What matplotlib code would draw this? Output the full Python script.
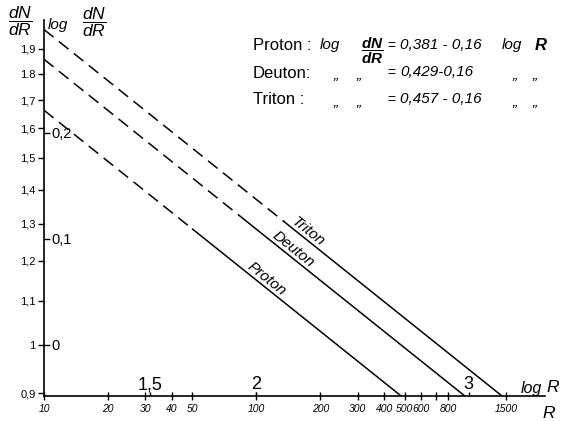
import numpy as np
import matplotlib
matplotlib.use("Agg")
import matplotlib.pyplot as plt

plt.rcParams['font.family'] = ['Liberation Sans', 'DejaVu Sans']
plt.rcParams['mathtext.fontset'] = 'custom'
plt.rcParams['mathtext.rm'] = 'Liberation Sans'
plt.rcParams['mathtext.it'] = 'Liberation Sans:italic'
plt.rcParams['mathtext.bf'] = 'Liberation Sans:italic:bold'

# data: log dN/dR = a - b * log R
particles = ['Proton', 'Deuton', 'Triton']
intercepts = [0.381, 0.429, 0.457]
slope = 0.16
dash_end = [1.70, 1.96, 2.13]     # log R where the dashed part turns solid
label_at = [2.05, 2.175, 2.245]   # log R of the curve label

r_ticks = [10, 20, 30, 40, 50, 100, 200, 300, 400, 500, 600, 700, 800, 1500]
r_labels = ['10', '20', '30', '40', '50', '100', '200', '300', '400', '500', '600', '', '800', '1500']
logr_ticks = [1.5, 2, 3]
logr_labels = ['1,5', '2', '3']

dndr_ticks = [0.9, 1.0, 1.1, 1.2, 1.3, 1.4, 1.5, 1.6, 1.7, 1.8, 1.9]
dndr_labels = ['0,9', '1', '1,1', '1,2', '1,3', '1,4', '1,5', '1,6', '1,7', '1.8', '1,9']
logd_ticks = [0, 0.1, 0.2]
logd_labels = ['0', '0,1', '0,2']

W, H = 569, 421
fig = plt.figure(figsize=(W / 100, H / 100), dpi=100)
ax = fig.add_axes([44 / W, 1 - 396 / H, 501 / W, 376 / H])
xlim = (1.0, 3.36)
ylim = (np.log10(0.895), 0.306)
ax.set_xlim(xlim)
ax.set_ylim(ylim)

for name, a, xe in zip(particles, intercepts, dash_end):
    x_end = (a - ylim[0]) / slope
    xd = np.array([1.0, xe])
    xs = np.array([xe, x_end])
    ax.plot(xd, a - slope * xd, color='black', lw=1.1, dashes=(8, 4.5))
    ax.plot(xs, a - slope * xs, color='black', lw=1.1)

fig.canvas.draw()
ang = ax.transData.transform_angles(np.array([np.degrees(np.arctan(-slope))]),
                                    np.array([[2.0, 0.0]]))[0]
for name, a, xl in zip(particles, intercepts, label_at):
    ax.text(xl, a - slope * xl + 0.009, name, rotation=ang, rotation_mode='anchor',
            ha='center', va='center', fontsize=11, style='italic')

for s in ['top', 'right']:
    ax.spines[s].set_visible(False)
ax.spines['left'].set_linewidth(1.2)
ax.spines['bottom'].set_linewidth(1.2)

# R ticks (bottom)
ax.set_xticks(np.log10(r_ticks))
ax.set_xticklabels(r_labels, fontsize=7.5, style='italic')
ax.tick_params(axis='x', direction='inout', length=6, width=1, pad=3)

# dN/dR ticks (left, outside)
ax.set_yticks(np.log10(dndr_ticks))
ax.set_yticklabels(dndr_labels, fontsize=8)
ax.tick_params(axis='y', direction='out', length=4, width=1, pad=2)

# log R ticks above the axis
axt = ax.twiny()
axt.set_xlim(xlim)
axt.spines['top'].set_position(('axes', 0))
for s in axt.spines.values():
    s.set_visible(False)
axt.set_xticks(logr_ticks)
axt.set_xticklabels(logr_labels, fontsize=13)
axt.tick_params(axis='x', direction='out', length=3, width=1, pad=-1)

# log dN/dR ticks right of the axis
axr = ax.twinx()
axr.set_ylim(ylim)
axr.spines['right'].set_position(('axes', 0))
for s in axr.spines.values():
    s.set_visible(False)
axr.set_yticks(logd_ticks)
axr.set_yticklabels(logd_labels, fontsize=10.5)
axr.tick_params(axis='y', direction='out', length=4, width=1, pad=1)


def ftext(x, y, s, **kw):
    fig.text(x / W, 1 - y / H, s, va='center', **kw)


# axis titles
ftext(8, 21, r'$\dfrac{dN}{dR}$', fontsize=12.5)
ftext(48, 25, 'log', fontsize=11, style='italic')
ftext(82, 22, r'$\dfrac{dN}{dR}$', fontsize=12.5)
ftext(521, 388, 'log', fontsize=11.5, style='italic')
ftext(546, 388, 'R', fontsize=12.5, style='italic')
ftext(542, 414, 'R', fontsize=12.5, style='italic')

# formulas
ftext(253, 45, 'Proton :', fontsize=12)
ftext(320, 45, 'log', fontsize=11, style='italic')
ftext(361, 51, r'$\dfrac{\mathbf{dN}}{\mathbf{dR}}$', fontsize=11)
ftext(387, 46, '=', fontsize=10)
ftext(400, 45, '0,381 - 0,16', fontsize=11, style='italic')
ftext(502, 45, 'log', fontsize=11, style='italic')
ftext(535, 45, 'R', fontsize=12, style='italic', weight='bold')

ftext(253, 73, 'Deuton:', fontsize=12)
ftext(387, 73, '=', fontsize=10)
ftext(400, 72, '0,429-0,16', fontsize=11, style='italic')
ftext(253, 100, 'Triton :', fontsize=12)
ftext(387, 100, '=', fontsize=10)
ftext(400, 99, '0,457 - 0,16', fontsize=11, style='italic')
for yy in [73, 100]:
    for xx in [334, 357, 513, 533]:
        ftext(xx, yy + 2, '„', fontsize=11, style='italic')

fig.savefig('out.png', dpi=100)
